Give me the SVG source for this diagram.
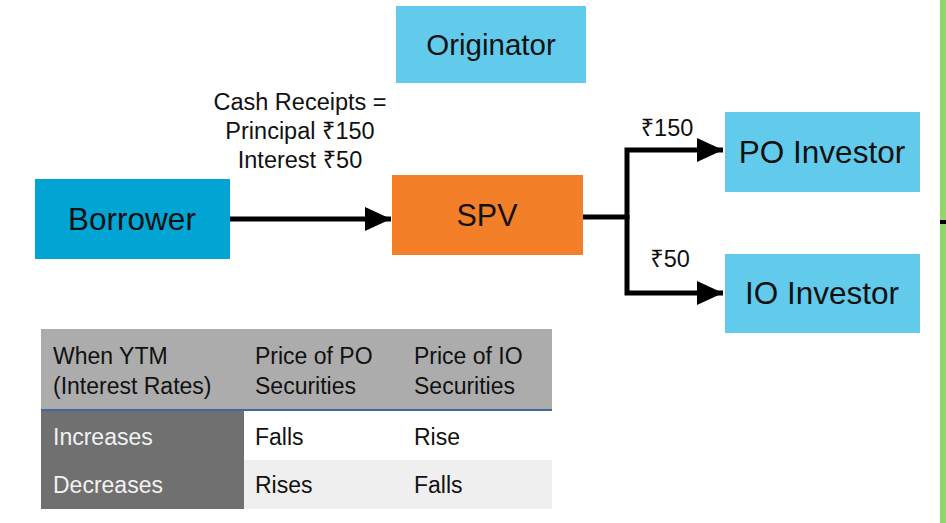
<svg xmlns="http://www.w3.org/2000/svg" width="946" height="523" viewBox="0 0 946 523">
  <style>
    text { font-family: "Liberation Sans", "Noto Sans", "DejaVu Sans", sans-serif; fill: #111; }
    .node-label { font-size: 31.5px; text-anchor: middle; }
    .flow-label { font-size: 23.5px; text-anchor: middle; }
    .cell { font-size: 23px; }
    .cell-light { font-size: 23px; fill: #f2f2f2; }
    .link { fill: none; stroke: #000; stroke-width: 5; stroke-linejoin: miter; }
  </style>
  <defs>
    <marker id="head" markerUnits="userSpaceOnUse" markerWidth="26" markerHeight="24" refX="26" refY="12" orient="auto">
      <path d="M0,0 L26,12 L0,24 Z" fill="#000"/>
    </marker>
  </defs>

  <rect width="946" height="523" fill="#ffffff"/>

  <!-- side strip -->
  <rect x="940" y="0" width="6" height="523" fill="#8fd868"/>
  <rect x="940" y="220" width="6" height="4" fill="#000"/>

  <!-- nodes -->
  <g id="originator">
    <rect x="396" y="6" width="190" height="77" fill="#62cbec"/>
    <text class="node-label" x="491" y="55" style="font-size:29.5px">Originator</text>
  </g>
  <g id="borrower">
    <rect x="35" y="179" width="195" height="80" fill="#02a4d4"/>
    <text class="node-label" x="132" y="230">Borrower</text>
  </g>
  <g id="spv">
    <rect x="392" y="175" width="191" height="80" fill="#f37f28"/>
    <text class="node-label" x="487" y="226" style="font-size:30.5px">SPV</text>
  </g>
  <g id="po-investor">
    <rect x="725" y="112" width="195" height="80" fill="#62cbec"/>
    <text class="node-label" x="822" y="163">PO Investor</text>
  </g>
  <g id="io-investor">
    <rect x="725" y="254" width="195" height="79" fill="#62cbec"/>
    <text class="node-label" x="822" y="304">IO Investor</text>
  </g>

  <!-- connectors -->
  <g id="connectors">
    <path class="link" d="M230,219 H391" marker-end="url(#head)"/>
    <path class="link" d="M583,217 H627"/>
    <path class="link" d="M627,219 V150 H723" marker-end="url(#head)"/>
    <path class="link" d="M627,215 V293 H723" marker-end="url(#head)"/>
  </g>

  <!-- flow labels -->
  <g id="flow-labels">
    <text class="flow-label" x="300" y="110">Cash Receipts =</text>
    <text class="flow-label" x="300" y="139">Principal ₹150</text>
    <text class="flow-label" x="300" y="168">Interest ₹50</text>
    <text class="flow-label" x="667" y="136">₹150</text>
    <text class="flow-label" x="670" y="267">₹50</text>
  </g>

  <!-- sensitivity table -->
  <g id="table">
    <rect x="41" y="329" width="511" height="81" fill="#acacac"/>
    <rect x="41" y="409" width="511" height="2" fill="#4068a0"/>
    <rect x="244" y="411" width="308" height="49" fill="#ffffff"/>
    <rect x="244" y="460" width="308" height="49" fill="#efefef"/>
    <rect x="41" y="411" width="203" height="98" fill="#707070"/>

    <text class="cell" x="53" y="364">When YTM</text>
    <text class="cell" x="53" y="394">(Interest Rates)</text>
    <text class="cell" x="255" y="364">Price of PO</text>
    <text class="cell" x="255" y="394">Securities</text>
    <text class="cell" x="414" y="364">Price of IO</text>
    <text class="cell" x="414" y="394">Securities</text>

    <text class="cell-light" x="53" y="445">Increases</text>
    <text class="cell" x="255" y="445">Falls</text>
    <text class="cell" x="414" y="445">Rise</text>

    <text class="cell-light" x="53" y="493">Decreases</text>
    <text class="cell" x="255" y="493">Rises</text>
    <text class="cell" x="414" y="493">Falls</text>
  </g>
</svg>
